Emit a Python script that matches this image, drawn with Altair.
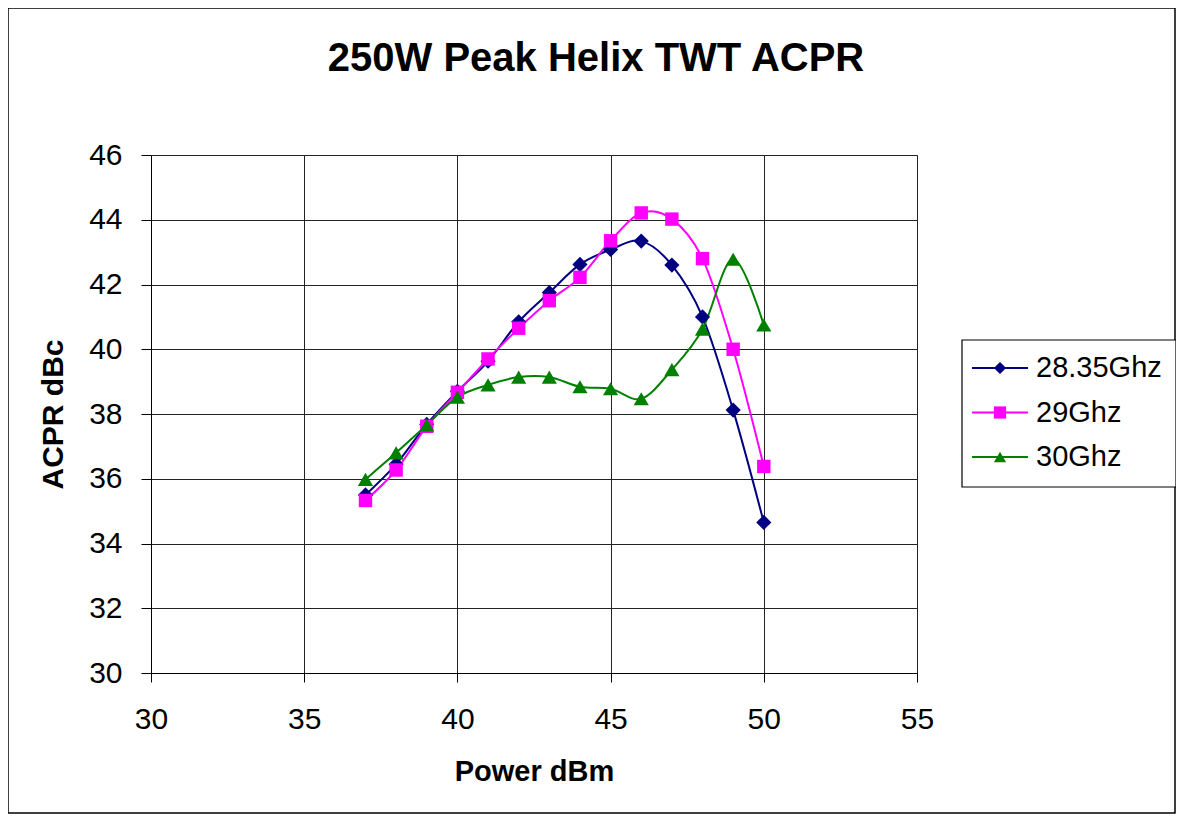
import altair as alt
import pandas as pd

power = [37, 38, 39, 40, 41, 42, 43, 44, 45, 46, 47, 48, 49, 50]
acpr_2835 = [35.5, 36.45, 37.68, 38.7, 39.63, 40.85, 41.75, 42.62, 43.08, 43.34, 42.6, 41.0, 38.12, 34.65]
acpr_29 = [35.33, 36.27, 37.62, 38.67, 39.7, 40.65, 41.5, 42.22, 43.35, 44.21, 44.02, 42.8, 40.0, 36.38]
acpr_30 = [35.98, 36.8, 37.66, 38.52, 38.9, 39.14, 39.14, 38.84, 38.78, 38.47, 39.37, 40.62, 42.78, 40.75]
series_names = ["28.35Ghz", "29Ghz", "30Ghz"]
series_colors = ["#000080", "#FF00FF", "#008000"]
series_shapes = ["diamond", "square", "triangle-up"]
series_sizes = [230, 180, 230]

rows = []
for name, vals in zip(series_names, [acpr_2835, acpr_29, acpr_30]):
    for p, v in zip(power, vals):
        rows.append({"series": name, "power": p, "acpr": v})
df = pd.DataFrame(rows)
legend_df = pd.DataFrame({"series": series_names})

FONT = "Liberation Sans"

x_enc = alt.X(
    "power:Q",
    scale=alt.Scale(domain=[30, 55], nice=False, zero=False),
    axis=alt.Axis(
        title="Power dBm",
        values=[30, 35, 40, 45, 50, 55],
        titleFont=FONT,
        titleFontSize=29,
        titleFontWeight="bold",
        titleColor="black",
        titlePadding=23,
        labelFont=FONT,
        labelFontSize=30,
        labelColor="black",
        labelPadding=22,
        tickSize=9,
        tickColor="black",
        domainColor="black",
        gridColor="#222222",
        labelFlush=False,
    ),
)
y_enc = alt.Y(
    "acpr:Q",
    scale=alt.Scale(domain=[30, 46], nice=False, zero=False),
    axis=alt.Axis(
        title="ACPR dBc",
        values=[30, 32, 34, 36, 38, 40, 42, 44, 46],
        titleFont=FONT,
        titleFontSize=30,
        titleFontWeight="bold",
        titleColor="black",
        titlePadding=20,
        labelFont=FONT,
        labelFontSize=30,
        labelColor="black",
        labelPadding=19,
        tickSize=10,
        tickColor="black",
        domainColor="black",
        gridColor="#222222",
        labelFlush=False,
    ),
)

color_scale = alt.Scale(domain=series_names, range=series_colors)
color_enc = alt.Color("series:N", scale=color_scale, legend=None)

base = alt.Chart(df)
lines = base.mark_line(interpolate="cardinal", tension=0, strokeWidth=2).encode(
    x=x_enc, y=y_enc, color=color_enc, detail="series:N"
)
point_layers = [
    base.transform_filter(alt.datum.series == name)
    .mark_point(filled=True, shape=shape, size=size, opacity=1)
    .encode(x=x_enc, y=y_enc, color=color_enc)
    for name, shape, size in zip(series_names, series_shapes, series_sizes)
]
main = alt.layer(lines, *point_layers)

# legend (built from the series list)
leg_y = alt.Y(
    "series:N",
    scale=alt.Scale(type="point", domain=series_names, range=[213, 302], padding=0),
    axis=None,
)
leg_base = alt.Chart(legend_df)
leg_box = alt.Chart(pd.DataFrame({"a": [0]})).mark_rect(
    fill="white", stroke="black", strokeWidth=1.2
).encode(x=alt.value(811), x2=alt.value(1025), y=alt.value(185), y2=alt.value(332))
leg_lines = leg_base.mark_rule(strokeWidth=2).encode(
    x=alt.value(821), x2=alt.value(877), y=leg_y, color=color_enc
)
leg_points = leg_base.mark_point(filled=True, opacity=1, size=150).encode(
    x=alt.value(849),
    y=leg_y,
    color=color_enc,
    shape=alt.Shape("series:N", scale=alt.Scale(domain=series_names, range=series_shapes), legend=None),
)
leg_text = leg_base.mark_text(
    align="left", baseline="middle", font=FONT, fontSize=29, color="black", dx=0
).encode(x=alt.value(885), y=leg_y, text="series:N")
legend_layer = alt.layer(leg_box, leg_lines, leg_points, leg_text)

frame = alt.Chart(pd.DataFrame({"a": [0]})).mark_rect(
    fill=None, stroke="black", strokeWidth=1.5
).encode(
    x=alt.value(-143), x2=alt.value(1024), y=alt.value(-147), y2=alt.value(658)
)

chart = alt.layer(frame, main, legend_layer).resolve_scale(
    y="independent"
).properties(
    width=766,
    height=518,
    title=alt.TitleParams(
        "250W Peak Helix TWT ACPR",
        font=FONT,
        fontSize=40,
        fontWeight="bold",
        color="black",
        anchor="middle",
        dx=62,
        offset=-72,
    ),
    autosize=alt.AutoSizeParams(type="none"),
    padding={"left": 143, "top": 147, "right": 259, "bottom": 141},
).configure_view(stroke="#888888", strokeWidth=1).configure(background="white")

chart.save("out.html", embed_options={"renderer": "svg", "actions": False})
